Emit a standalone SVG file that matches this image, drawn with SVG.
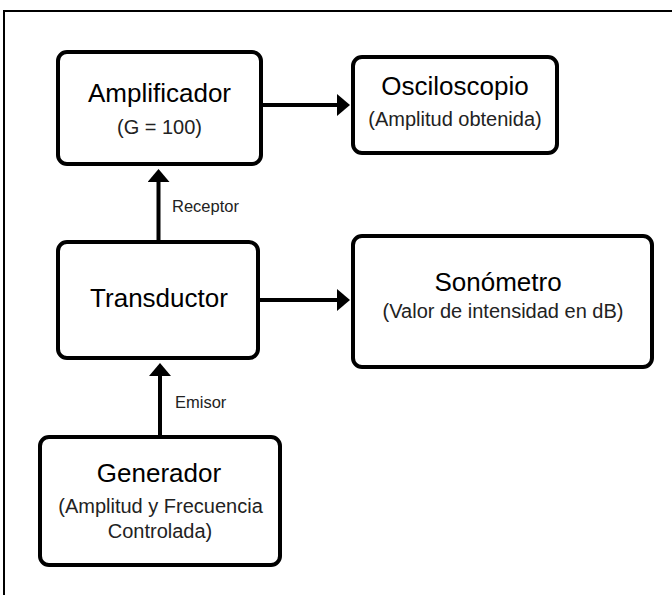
<svg xmlns="http://www.w3.org/2000/svg" width="672" height="595" viewBox="0 0 672 595">
<style>
.box{fill:#fff;stroke:#000;stroke-width:4}
.t{font-family:"Liberation Sans",Arial,sans-serif;font-size:26px;fill:#000;text-anchor:middle}
.s{font-family:"Liberation Sans",Arial,sans-serif;font-size:20px;fill:#222;text-anchor:middle}
.l{font-family:"Liberation Sans",Arial,sans-serif;font-size:16.5px;fill:#222}
.c{stroke:#000;stroke-width:4;fill:none}
</style>
<defs>
<marker id="ah" markerUnits="userSpaceOnUse" markerWidth="14" markerHeight="22" refX="1" refY="11" orient="auto">
<path d="M0,0 L13,11 L0,22 z" fill="#000"/>
</marker>
</defs>
<rect width="672" height="595" fill="#fff"/>
<rect x="4" y="11" width="700" height="620" fill="none" stroke="#000" stroke-width="2"/>
<g id="connectors">
<line class="c" x1="261" y1="105" x2="338" y2="105" marker-end="url(#ah)"/>
<line class="c" x1="258" y1="300" x2="338" y2="300" marker-end="url(#ah)"/>
<line class="c" x1="158.5" y1="242" x2="158.5" y2="181" marker-end="url(#ah)"/>
<line class="c" x1="160" y1="437" x2="160" y2="375" marker-end="url(#ah)"/>
<text class="l" x="172" y="212">Receptor</text>
<text class="l" x="175" y="408">Emisor</text>
</g>
<g id="amplificador">
<rect class="box" x="58" y="52" width="203" height="112" rx="9"/>
<text class="t" x="159.5" y="102">Amplificador</text>
<text class="s" x="159.5" y="134">(G = 100)</text>
</g>
<g id="osciloscopio">
<rect class="box" x="353" y="57" width="204" height="96" rx="9"/>
<text class="t" x="455" y="95">Osciloscopio</text>
<text class="s" x="455" y="126">(Amplitud obtenida)</text>
</g>
<g id="transductor">
<rect class="box" x="58" y="242" width="200" height="116" rx="9"/>
<text class="t" x="159" y="307">Transductor</text>
</g>
<g id="sonometro">
<rect class="box" x="353" y="236" width="299" height="131" rx="9"/>
<text class="t" x="498" y="291">Sonómetro</text>
<text class="s" x="503" y="318">(Valor de intensidad en dB)</text>
</g>
<g id="generador">
<rect class="box" x="40" y="437" width="240" height="128" rx="9"/>
<text class="t" x="159" y="482">Generador</text>
<text class="s" x="160.5" y="513">(Amplitud y Frecuencia</text>
<text class="s" x="160" y="538">Controlada)</text>
</g>
</svg>
